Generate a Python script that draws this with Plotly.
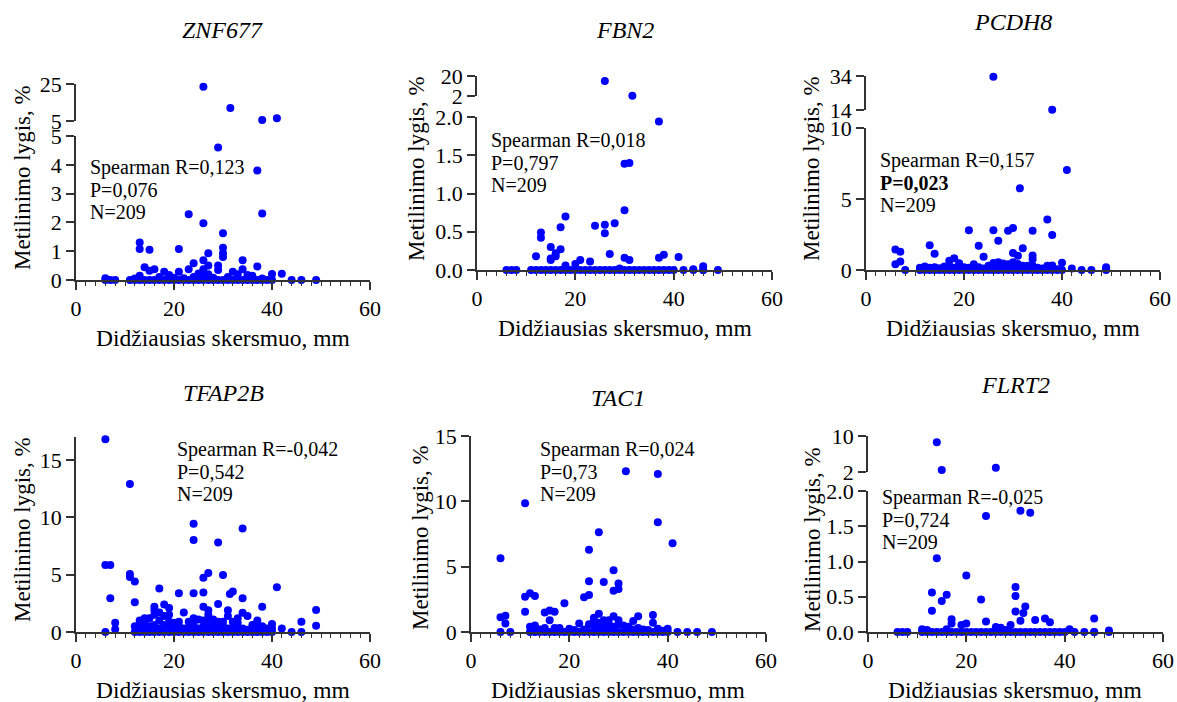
import plotly.graph_objects as go

# ---------------- data ----------------
znf677_x = [26, 31.5, 38, 41, 29, 37, 23, 38, 26, 30, 13, 13, 15, 21, 30, 30, 30, 27, 34, 26,
            24, 37, 29, 29, 27, 14, 16, 23, 34, 26, 18, 21, 32, 15, 42, 40, 19, 13, 25, 35,
            36, 33, 27, 6, 12, 17, 20, 22, 24, 26, 28, 31, 33, 38,
            6, 7, 8, 11, 12, 13, 14, 15, 16, 17, 18, 19, 20, 21, 22, 23, 24, 25, 26, 27, 28,
            29, 30, 31, 32, 33, 34, 35, 36, 37, 38, 39, 40, 44, 46, 49]
znf677_y = [23.5, 12, 5.5, 6.5, 4.6, 3.8, 2.28, 2.31, 1.97, 1.62, 1.3, 1.08, 1.05, 1.08, 1.12, 0.93, 0.8, 0.93, 0.69, 0.69,
            0.58, 0.47, 0.5, 0.35, 0.5, 0.44, 0.37, 0.37, 0.37, 0.37, 0.29, 0.29, 0.29, 0.32, 0.22, 0.21, 0.17, 0.15, 0.23, 0.17,
            0.15, 0.2, 0.2, 0.06, 0.05, 0.1, 0.08, 0.06, 0.1, 0.12, 0.08, 0.1, 0.06, 0.05,
            0, 0, 0, 0, 0, 0, 0, 0, 0, 0, 0, 0, 0, 0, 0, 0, 0, 0, 0, 0, 0,
            0, 0, 0, 0, 0, 0, 0, 0, 0, 0, 0, 0, 0, 0, 0]

fbn2_x = [26, 31.6, 37, 30, 31, 30, 18, 17, 24, 26, 26, 28, 13, 13, 15, 16, 16, 17, 15, 12,
          27, 21, 23, 20, 18, 30, 31, 37, 38, 41, 44, 46, 29, 15, 46,
          6, 7, 8, 11, 12, 13, 14, 15, 16, 17, 18, 19, 20, 21, 22, 23, 24, 25, 26, 27, 28,
          29, 30, 31, 32, 33, 34, 35, 36, 37, 38, 39, 40, 42, 44, 46, 49]
fbn2_y = [15.5, 2.2, 1.94, 1.39, 1.4, 0.78, 0.70, 0.56, 0.58, 0.59, 0.48, 0.61, 0.49, 0.42, 0.30, 0.22, 0.18, 0.27, 0.15, 0.18,
          0.21, 0.13, 0.11, 0.08, 0.06, 0.16, 0.13, 0.16, 0.2, 0.17, 0.01, 0.05, 0.02, 0.13, 0.0,
          0, 0, 0, 0, 0, 0, 0, 0, 0, 0, 0, 0, 0, 0, 0, 0, 0, 0, 0, 0, 0,
          0, 0, 0, 0, 0, 0, 0, 0, 0, 0, 0, 0, 0, 0, 0, 0]

pcdh8_x = [26, 38, 41, 31.4, 37, 38, 34, 30, 29, 26, 21, 23, 13, 27, 32, 30, 31, 14, 6, 7,
           6, 7, 24, 34, 34, 18, 17, 40, 19, 22, 26, 27, 28, 29, 30, 31, 32, 33, 34, 37,
           38, 25, 11, 12, 13, 15, 16, 20, 21, 23, 24, 26, 27, 28, 29, 30, 31, 35, 36, 39,
           42, 49, 49, 17, 18, 14,
           8, 11, 12, 13, 14, 15, 16, 17, 18, 19, 20, 21, 22, 23, 24, 25, 26, 27, 28, 29,
           30, 31, 32, 33, 34, 35, 36, 37, 38, 39, 40, 44, 46, 49]
pcdh8_y = [33.6, 14.2, 7.04, 5.75, 3.55, 2.46, 2.77, 2.96, 2.76, 2.8, 2.8, 1.7, 1.74, 2.06, 1.53, 1.2, 1.0, 1.14, 1.45, 1.28,
           0.4, 0.6, 0.94, 1.02, 0.75, 0.82, 0.65, 0.51, 0.47, 0.4, 0.5, 0.55, 0.45, 0.4, 0.55, 0.42, 0.3, 0.3, 0.3, 0.3,
           0.32, 0.3, 0.15, 0.25, 0.15, 0.12, 0.25, 0.2, 0.15, 0.2, 0.1, 0.2, 0.15, 0.2, 0.12, 0.2, 0.1, 0.15, 0.1, 0.05,
           0.1, 0.2, 0.05, 0.3, 0.15, 0.2,
           0, 0, 0, 0, 0, 0, 0, 0, 0, 0, 0, 0, 0, 0, 0, 0, 0, 0, 0, 0,
           0, 0, 0, 0, 0, 0, 0, 0, 0, 0, 0, 0, 0, 0]

tfap2b_x = [6, 11, 24, 24, 34, 29, 6, 7, 11, 11, 12, 27, 30, 26, 41, 17, 21, 24, 26, 31.4,
            32, 34, 7, 12, 29, 38, 16, 16, 18, 19, 26, 27, 27, 31, 31, 22, 34, 49, 49, 8,
            8, 46, 46, 44, 42, 40, 40, 37, 33, 35, 6, 13, 15, 14, 12, 16, 17, 18, 19, 20,
            21, 23, 25, 26, 27, 28, 30, 30, 32, 36, 38, 39, 13, 14, 15, 16, 17, 18, 19, 20,
            21, 22, 23, 24, 25, 26, 27, 28, 29, 31, 32, 33, 34, 35, 37, 38, 24, 28, 29, 33,
            17, 19, 14,
            12, 13, 14, 15, 16, 17, 18, 19, 20, 21, 22, 23, 24, 25, 26, 27, 28, 29, 30, 31,
            32, 33, 34, 35, 36, 37, 38, 39, 40]
tfap2b_y = [16.8, 12.9, 9.43, 8.03, 9.02, 7.8, 5.85, 5.85, 5.06, 4.8, 4.4, 5.15, 4.98, 4.74, 3.9, 3.8, 3.38, 3.38, 3.44, 3.32,
            3.52, 2.94, 2.94, 2.59, 2.45, 2.21, 2.2, 1.9, 2.4, 2.1, 2.2, 1.9, 1.5, 1.9, 1.4, 1.7, 1.68, 1.92, 0.55, 0.8,
            0.25, 0.9, 0, 0, 0.3, 0.7, 0.3, 1.0, 1.2, 1.4, 0, 1.0, 1.2, 0.9, 0.5, 1.5, 1.7, 1.4, 1.5, 0.8,
            0.9, 0.9, 1.1, 1.0, 1.0, 0.8, 0.9, 0.5, 0.9, 0.6, 0.5, 0.3, 0.4, 0.3, 0.5, 0.6, 0.3, 0.6, 0.3, 0.2,
            0.5, 0.3, 0.4, 0.6, 0.3, 0.5, 0.4, 0.2, 0.6, 0.3, 0.4, 0.2, 0.3, 0.2, 0.4, 0.1, 1.2, 1.1, 0.9, 0.8,
            1.0, 0.9, 1.2,
            0, 0, 0, 0, 0, 0, 0, 0, 0, 0, 0, 0, 0, 0, 0, 0, 0, 0, 0, 0,
            0, 0, 0, 0, 0, 0, 0, 0, 0]

tac1_x = [6, 11, 31.5, 38, 38, 41, 26, 24, 29, 24, 27, 30, 30, 29, 23, 24, 11, 12, 13, 19,
          11, 6, 7, 7, 6, 8, 15, 16, 17, 16, 13, 26, 25, 29, 37, 37, 34, 33, 28, 27,
          22, 24, 40, 42, 44, 46, 49, 12, 38, 14, 15, 17, 18, 20, 21, 23, 25, 26, 27, 28,
          29, 30, 31, 32, 33, 34, 35, 36, 39, 26, 27, 25, 30, 28,
          12, 13, 14, 15, 16, 17, 18, 19, 20, 21, 22, 23, 24, 25, 26, 27, 28, 29, 30, 31,
          32, 33, 34, 35, 36, 37, 38, 39, 40]
tac1_y = [5.64, 9.85, 12.3, 12.1, 8.39, 6.79, 7.63, 6.3, 4.72, 3.88, 3.82, 3.72, 3.29, 3.16, 2.65, 2.83, 2.7, 2.96, 2.75, 2.2,
          1.55, 1.12, 1.25, 0.66, 0, 0, 1.5, 1.65, 1.55, 0.9, 0.5, 1.4, 1.1, 1.2, 1.3, 0.7, 1.2, 0.85, 0.9, 0.9,
          0.65, 0.6, 0.25, 0, 0, 0, 0, 0.4, 0.25, 0.2, 0.3, 0.3, 0.3, 0.25, 0.15, 0.2, 0.5, 0.7, 0.5, 0.6,
          0.4, 0.6, 0.5, 0.4, 0.2, 0.3, 0.2, 0.15, 0.1, 0.3, 0.2, 0.8, 0.9, 0.3,
          0, 0, 0, 0, 0, 0, 0, 0, 0, 0, 0, 0, 0, 0, 0, 0, 0, 0, 0, 0,
          0, 0, 0, 0, 0, 0, 0, 0, 0]

flrt2_x = [14, 15, 26, 24, 31, 33, 14, 20, 13, 13, 15, 16, 23, 30, 30, 30, 31, 31.6, 32, 34,
           36, 37, 46, 17, 17, 20, 19, 24, 29, 26, 27, 11, 41, 49, 16, 28, 12, 46,
           6, 7, 8, 11, 12, 13, 14, 15, 16, 17, 18, 19, 20, 21, 22, 23, 24, 25, 26, 27,
           28, 29, 30, 31, 32, 33, 34, 35, 36, 37, 38, 39, 40, 42, 44, 46, 49]
flrt2_y = [8.6, 2.45, 2.96, 1.645, 1.72, 1.69, 1.045, 0.80, 0.56, 0.30, 0.44, 0.53, 0.46, 0.64, 0.51, 0.29, 0.16, 0.27, 0.36, 0.17,
           0.19, 0.14, 0.19, 0.18, 0.12, 0.12, 0.1, 0.15, 0.1, 0.07, 0.06, 0.04, 0.04, 0.02, 0.04, 0.03, 0.03, 0.0,
           0, 0, 0, 0, 0, 0, 0, 0, 0, 0, 0, 0, 0, 0, 0, 0, 0, 0, 0, 0,
           0, 0, 0, 0, 0, 0, 0, 0, 0, 0, 0, 0, 0, 0, 0, 0, 0]

genes = ["ZNF677", "FBN2", "PCDH8", "TFAP2B", "TAC1", "FLRT2"]
stats_r = ["Spearman R=0,123", "Spearman R=0,018", "Spearman R=0,157",
           "Spearman R=-0,042", "Spearman R=0,024", "Spearman R=-0,025"]
stats_p = ["P=0,076", "P=0,797", "<b>P=0,023</b>", "P=0,542", "P=0,73", "P=0,724"]
stats_n = ["N=209", "N=209", "N=209", "N=209", "N=209", "N=209"]

x_ticks = [0, 20, 40, 60]
# lower-segment ranges, ticks and labels
low_range = [[0, 5], [0, 2], [0, 10], [0, 17], [0, 15], [0, 2]]
low_ticks = [[0, 1, 2, 3, 4, 5], [0, 0.5, 1, 1.5, 2], [0, 5, 10], [0, 5, 10, 15], [0, 5, 10, 15], [0, 0.5, 1, 1.5, 2]]
low_labels = [["0", "1", "2", "3", "4", "5"], ["0.0", "0.5", "1.0", "1.5", "2.0"], ["0", "5", "10"],
              ["0", "5", "10", "15"], ["0", "5", "10", "15"], ["0.0", "0.5", "1.0", "1.5", "2.0"]]
# upper (broken) segment ranges; None = no break
up_range = [[5, 25], [2, 20], [14, 34], None, None, [2, 10]]
up_ticks = [[5, 25], [2, 20], [14, 34], None, None, [2, 10]]
up_labels = [["5", "25"], ["2", "20"], ["14", "34"], None, None, ["2", "10"]]

xs = [znf677_x, fbn2_x, pcdh8_x, tfap2b_x, tac1_x, flrt2_x]
ys = [znf677_y, fbn2_y, pcdh8_y, tfap2b_y, tac1_y, flrt2_y]

# ---------------- geometry (pixels) ----------------
W, H = 1177, 702
# x0, x1 of x-axis; y of x-axis; top of lower segment; upper segment bottom/top
geo = [
    dict(x0=76, x1=370, yb=280, yl=136, yu0=121, yu1=84, title=(222, 30), ytitle=(22, 178), xtitle=(223, 338), stats=(88, 167)),
    dict(x0=477, x1=772, yb=270, yl=117, yu0=96, yu1=76, title=(625, 30), ytitle=(417, 169), xtitle=(625, 328), stats=(489, 140)),
    dict(x0=866, x1=1160, yb=270, yl=128, yu0=110, yu1=76, title=(1013, 22), ytitle=(812, 169), xtitle=(1013, 328), stats=(878, 160)),
    dict(x0=76, x1=370, yb=632, yl=437, yu0=None, yu1=None, title=(223, 393), ytitle=(22, 530), xtitle=(223, 690), stats=(175, 449)),
    dict(x0=471, x1=766, yb=632, yl=436, yu0=None, yu1=None, title=(618, 398), ytitle=(420, 538), xtitle=(618, 690), stats=(538, 449)),
    dict(x0=868, x1=1163, yb=632, yl=491, yu0=472, yu1=436, title=(1015, 385), ytitle=(812, 540), xtitle=(1015, 690), stats=(880, 497)),
]
LINE_GAP = 22.5

def fx(px):
    return px / W

def fy(py):
    return 1 - py / H

FONT = "Liberation Serif"
AXC = "#333333"
DOT = "#0000ff"

def axis_common():
    return dict(showgrid=False, zeroline=False, showline=True, linecolor=AXC, linewidth=1.5,
                ticks="outside", ticklen=8, tickwidth=1.5, tickcolor=AXC,
                tickfont=dict(family=FONT, size=22, color="black"),
                automargin=False, fixedrange=True)

fig = go.Figure()
layout = {}
annotations = []
extra_y = 7

for i in range(6):
    g = geo[i]
    n = i + 1
    xname = "x" if n == 1 else f"x{n}"
    yname = "y" if n == 1 else f"y{n}"
    xkey = "xaxis" if n == 1 else f"xaxis{n}"
    ykey = "yaxis" if n == 1 else f"yaxis{n}"

    xa = axis_common()
    xa.update(domain=[fx(g["x0"]), fx(g["x1"])], range=[0, 60], anchor=yname,
              tickmode="array", tickvals=x_ticks, ticktext=[str(v) for v in x_ticks],
              minor=dict(tickmode="linear", tick0=0, dtick=2, ticks="outside", ticklen=4,
                         tickwidth=1.2, tickcolor=AXC, showgrid=False))
    layout[xkey] = xa

    ya = axis_common()
    ya.update(domain=[fy(g["yb"]), fy(g["yl"])], range=low_range[i], anchor=xname,
              tickmode="array", tickvals=low_ticks[i], ticktext=low_labels[i])
    layout[ykey] = ya

    lo_max = low_range[i][1]
    lx = [a for a, b in zip(xs[i], ys[i]) if b <= lo_max]
    ly = [b for a, b in zip(xs[i], ys[i]) if b <= lo_max]
    fig.add_trace(go.Scatter(x=lx, y=ly, mode="markers", xaxis=xname, yaxis=yname,
                             marker=dict(color=DOT, size=8, line=dict(width=0)),
                             cliponaxis=False, showlegend=False, hoverinfo="skip"))

    if up_range[i] is not None:
        extra_y += 1
        uname = f"y{extra_y}"
        ukey = f"yaxis{extra_y}"
        ua = axis_common()
        ua.update(domain=[fy(g["yu0"]), fy(g["yu1"])], range=up_range[i], anchor=xname,
                  tickmode="array", tickvals=up_ticks[i], ticktext=up_labels[i])
        layout[ukey] = ua
        ux = [a for a, b in zip(xs[i], ys[i]) if b > lo_max]
        uy = [b for a, b in zip(xs[i], ys[i]) if b > lo_max]
        fig.add_trace(go.Scatter(x=ux, y=uy, mode="markers", xaxis=xname, yaxis=uname,
                                 marker=dict(color=DOT, size=8, line=dict(width=0)),
                                 cliponaxis=False, showlegend=False, hoverinfo="skip"))

    # titles
    tx, ty = g["title"]
    annotations.append(dict(text=f"<i>{genes[i]}</i>", x=fx(tx), y=fy(ty), xref="paper", yref="paper",
                            xanchor="center", yanchor="middle", showarrow=False,
                            font=dict(family=FONT, size=24, color="black")))
    ax_, ay_ = g["xtitle"]
    annotations.append(dict(text="Didžiausias skersmuo, mm", x=fx(ax_), y=fy(ay_), xref="paper", yref="paper",
                            xanchor="center", yanchor="middle", showarrow=False,
                            font=dict(family=FONT, size=23.5, color="black")))
    yx_, yy_ = g["ytitle"]
    annotations.append(dict(text="Metilinimo lygis, %", x=fx(yx_), y=fy(yy_), xref="paper", yref="paper",
                            xanchor="center", yanchor="middle", showarrow=False, textangle=-90,
                            font=dict(family=FONT, size=23, color="black")))
    sx, sy = g["stats"]
    for k, txt in enumerate([stats_r[i], stats_p[i], stats_n[i]]):
        annotations.append(dict(text=txt, x=fx(sx), y=fy(sy + k * LINE_GAP), xref="paper", yref="paper",
                                xanchor="left", yanchor="middle", showarrow=False,
                                font=dict(family=FONT, size=20, color="black")))

layout.update(width=W, height=H, margin=dict(l=0, r=0, t=0, b=0),
              paper_bgcolor="white", plot_bgcolor="white", showlegend=False,
              annotations=annotations, font=dict(family=FONT, color="black"))
fig.update_layout(**layout)
fig.write_html("out.html")
